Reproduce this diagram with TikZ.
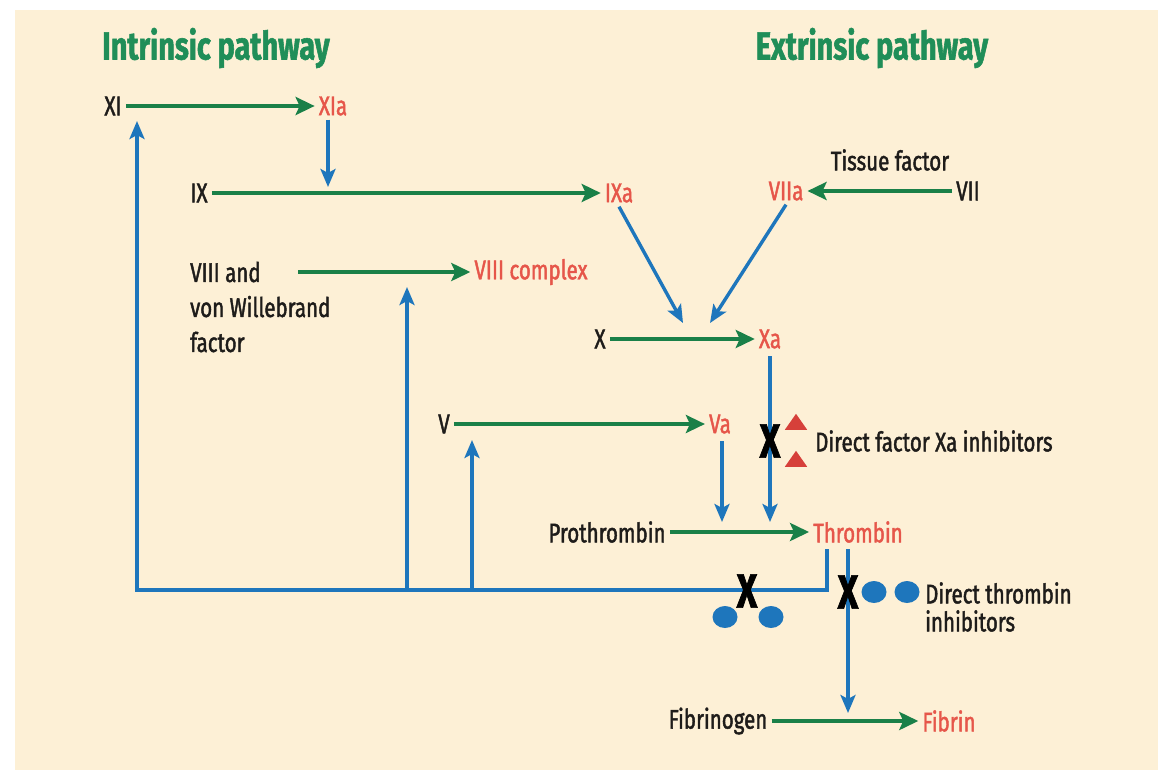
\documentclass[tikz,border=0pt]{standalone}
\usepackage{fontspec}
\setmainfont{Fira Sans}[FakeStretch=0.74]
\newfontfamily\bodyfont{Fira Sans}[FakeStretch=0.76, FakeBold=1.6]
\newfontfamily\headfont{Fira Sans Bold}[FakeStretch=0.74, FakeBold=1.4]
\usetikzlibrary{arrows.meta,shapes.geometric}
\definecolor{paper}{RGB}{253,240,214}
\definecolor{grn}{RGB}{26,128,72}
\definecolor{ttl}{RGB}{32,142,88}
\definecolor{blu}{RGB}{30,118,188}
\definecolor{act}{RGB}{230,86,74}
\definecolor{tri}{RGB}{214,64,58}
\definecolor{ink}{RGB}{30,28,26}
\tikzset{
  conv/.style={line width=3.8pt, draw=grn, -{Stealth[length=19pt, width=18pt, inset=4pt]}},
  sig/.style={line width=3.4pt, draw=blu, -{Stealth[length=18pt, width=15pt, inset=4pt]}},
  txt/.style={font=\bodyfont\fontsize{27}{35}\selectfont, text=ink, inner sep=4pt},
  actv/.style={txt, text=act},
  head/.style={font=\headfont\fontsize{39}{40}\selectfont, text=ttl},
  xmark/.style={font=\headfont\fontsize{48}{48}\selectfont, text=black, inner sep=0pt},
  dot/.style={ellipse, fill=blu, minimum width=25pt, minimum height=22pt, inner sep=0pt},
  wedge/.style={isosceles triangle, shape border rotate=90, isosceles triangle apex angle=70,
    fill=tri, minimum width=18pt, minimum height=16pt, inner sep=0pt},
}
\newcommand{\block}[2]{\node[xmark] (#1) at (#2) {X};}

\begin{document}
\begin{tikzpicture}[x=1pt, y=-1pt]
\useasboundingbox (0,0) rectangle (1158,776);
\fill[white] (0,0) rectangle (1158,776);
\fill[paper] (15,10) rectangle (1158,770);

\node[head] (intr) at (216,48) {Intrinsic pathway};
\node[head] (extr) at (872,48) {Extrinsic pathway};

% factors
\node[txt] (XI) at (113,106) {XI};
\node[actv] (XIa) at (333,106) {XIa};
\node[txt] (IX) at (199,193) {IX};
\node[actv] (IXa) at (619,193) {IXa};
\node[txt] (tf) at (890,160) {Tissue factor};
\node[txt] (VII) at (968,191) {VII};
\node[actv] (VIIa) at (786,191) {VIIa};
\node[txt, align=left, anchor=west] (VIII) at (186,307) {VIII and\\von Willebrand\\factor};
\node[actv] (VIIIc) at (531,272) {VIII complex};
\node[txt] (X) at (600,339) {X};
\node[actv] (Xa) at (770,339) {Xa};
\node[txt] (V) at (444,424) {V};
\node[actv] (Va) at (720,424) {Va};
\node[txt] (pro) at (607,532) {Prothrombin};
\node[actv] (thr) at (858,532) {Thrombin};
\node[txt] (fbg) at (718,721) {Fibrinogen};
\node[actv] (fib) at (949,721) {Fibrin};
\node[txt, anchor=west] (dxa) at (811,441) {Direct factor Xa inhibitors};
\node[txt, align=left, anchor=west, font=\bodyfont\fontsize{27}{28}\selectfont] (dti) at (921,607) {Direct thrombin\\inhibitors};

% conversions
\coordinate (viiiS) at (298,272);
\draw[conv] (XI) -- (XIa);
\draw[conv] (IX) -- (IXa);
\draw[conv] (VII.west) -- (VIIa);
\draw[conv] (viiiS) -- (VIIIc);
\draw[conv] (X) -- (Xa);
\draw[conv] (V) -- (Va);
\draw[conv] (pro) -- (thr);
\draw[conv] (fbg) -- (fib);

% activation
\coordinate (ixT) at (328,187);
\coordinate (xL) at (683,323);
\coordinate (xR) at (710,323);
\coordinate (xaB) at (770,356);
\coordinate (thrA) at (770,522);
\coordinate (vaB) at (722,441);
\coordinate (thrB) at (722,522);
\coordinate (thrL) at (827,549);
\coordinate (thrR) at (848,549);
\coordinate (fibT) at (848,713);
\coordinate (loopL) at (137,590);
\coordinate (xiB) at (137,121);
\coordinate (b8) at (407,590);
\coordinate (b8T) at (407,287);
\coordinate (b5) at (472,590);
\coordinate (b5T) at (472,440);

\draw[sig] (XIa.south -| ixT) -- (ixT);
\draw[sig] (IXa.south) -- (xL);
\draw[sig] (VIIa.south) -- (xR);
\draw[sig] (xaB) -- (thrA);
\draw[sig] (vaB) -- (thrB);
\draw[sig] (thrL) |- (loopL) -- (xiB);
\draw[sig] (b8) -- (b8T);
\draw[sig] (b5) -- (b5T);
\draw[sig] (thrR) -- (fibT);

% inhibitors
\block{xa1}{770,441}
\node[wedge] (t1) at (796,424) {};
\node[wedge] (t2) at (796,461) {};
\block{th1}{747,591}
\node[dot] (d1) at (725,617) {};
\node[dot] (d2) at (771,617) {};
\block{th2}{848,592}
\node[dot] (d3) at (874,592) {};
\node[dot] (d4) at (907,592) {};

\end{tikzpicture}
\end{document}
